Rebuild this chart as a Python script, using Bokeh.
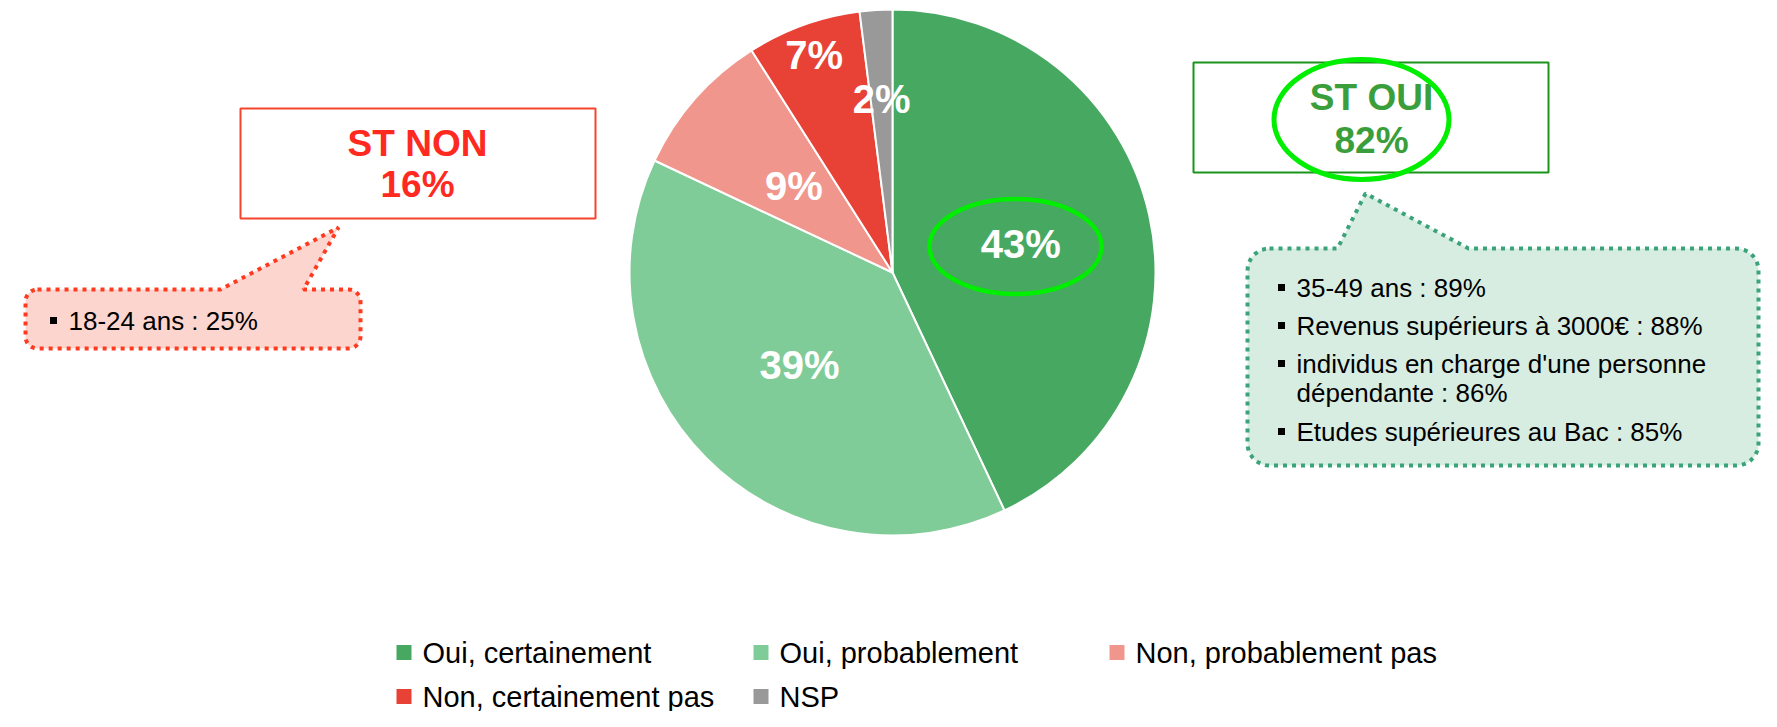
import numpy as np
from bokeh.plotting import figure
from bokeh.models import Range1d
from bokeh.embed import file_html
from bokeh.resources import INLINE
from bokeh.core.properties import value

# ---------------- data ----------------
categories = ["Oui, certainement", "Oui, probablement", "Non, probablement pas",
              "Non, certainement pas", "NSP"]
values = [43, 39, 9, 7, 2]
slice_colors = ["#47A862", "#80CC98", "#F1968D", "#E84135", "#999999"]

st_oui_label = "ST OUI"
st_oui_value = 82
st_non_label = "ST NON"
st_non_value = 16

oui_details = ["35-49 ans : 89%", "Revenus supérieurs à 3000€ : 88%",
               "individus en charge d'une personne", "dépendante : 86%",
               "Etudes supérieures au Bac : 85%"]
oui_bullets = [True, True, True, False, True]
non_details = ["18-24 ans : 25%"]

# ---------------- figure ----------------
W, H = 1761, 711
p = figure(width=W, height=H, x_range=Range1d(0, W), y_range=Range1d(-H, 0),
           output_backend="svg", toolbar_location=None, min_border=0,
           x_axis_location=None, y_axis_location=None)
p.xgrid.visible = False
p.ygrid.visible = False
p.outline_line_color = None
p.background_fill_color = "white"
p.border_fill_color = "white"

FONT = value("Liberation Sans")

# ---------------- pie ----------------
CX, CY, R = 892, 272, 263
fr = np.array(values, dtype=float) / sum(values)
cum = np.concatenate([[0.0], np.cumsum(fr)])
start = np.pi / 2 - 2 * np.pi * cum[:-1]
end = np.pi / 2 - 2 * np.pi * cum[1:]
p.wedge(x=CX, y=-CY, radius=R, start_angle=list(start), end_angle=list(end),
        direction="clock", fill_color=slice_colors, line_color="white", line_width=2)

label_frac = [0.5, 0.5, 0.5, 0.88, 0.66]
mid = (start + end) / 2
lx = [CX + f * R * np.cos(m) for f, m in zip(label_frac, mid)]
ly = [-CY + f * R * np.sin(m) for f, m in zip(label_frac, mid)]
p.text(x=lx, y=ly, text=[f"{v}%" for v in values], text_font=FONT,
       text_font_style="bold", text_font_size="40px", text_color="white",
       text_align="center", text_baseline="middle")

p.ellipse(x=1015, y=-246, width=172, height=95, fill_color=None,
          line_color="#00EE00", line_width=4.5)


# ---------------- callouts ----------------
def callout(left, top, right, bottom, r, b1, tip, b2):
    pts = [(left + r, top), (b1, top), tip, (b2, top), (right - r, top)]

    def arc(cx, cy, a0, a1):
        t = np.linspace(np.radians(a0), np.radians(a1), 10)
        return [(cx + r * np.cos(a), cy + r * np.sin(a)) for a in t]

    pts += arc(right - r, top + r, -90, 0)
    pts += arc(right - r, bottom - r, 0, 90)
    pts += arc(left + r, bottom - r, 90, 180)
    pts += arc(left + r, top + r, 180, 270)
    xs = [q[0] for q in pts]
    ys = [-q[1] for q in pts]
    return xs, ys


# red callout
xs, ys = callout(25, 289, 360, 348, 12, 220, (338, 227), 303)
p.patch(xs, ys, fill_color="#FDD5CF", line_color="#FF3A1F", line_width=4,
        line_dash="4 5")
# green callout
xs, ys = callout(1247, 248, 1758, 465, 22, 1337, (1365, 193), 1468)
p.patch(xs, ys, fill_color="#D8EDE2", line_color="#3BA37A", line_width=4,
        line_dash="4 5")

# ---------------- ST boxes ----------------
p.quad(left=240, right=595, top=-108, bottom=-218, fill_color="white",
       line_color="#F5442C", line_width=2)
p.text(x=[417, 417], y=[-143, -184], text=[st_non_label, f"{st_non_value}%"],
       text_font=FONT, text_font_style="bold", text_font_size="37px",
       text_color="#FF2A1F", text_align="center", text_baseline="middle")

p.quad(left=1193, right=1548, top=-62, bottom=-172, fill_color="white",
       line_color="#1A941A", line_width=2)
p.text(x=[1371, 1371], y=[-97, -140], text=[st_oui_label, f"{st_oui_value}%"],
       text_font=FONT, text_font_style="bold", text_font_size="37px",
       text_color="#3A9E3A", text_align="center", text_baseline="middle")
p.ellipse(x=1361, y=-119, width=175, height=120, fill_color=None,
          line_color="#00EE00", line_width=5)

# ---------------- callout texts ----------------
p.text(x=[68], y=[-320], text=non_details, text_font=FONT, text_font_size="26px",
       text_color="black", text_align="left", text_baseline="middle")
p.scatter(x=[53], y=[-320], marker="square", size=7, fill_color="black", line_color=None)

oui_y = [287, 325, 363, 392, 431]
p.text(x=[1296] * len(oui_details), y=[-v for v in oui_y], text=oui_details,
       text_font=FONT, text_font_size="26px", text_color="black",
       text_align="left", text_baseline="middle")
by = [-v for v, b in zip(oui_y, oui_bullets) if b]
p.scatter(x=[1281] * len(by), y=by, marker="square", size=7, fill_color="black",
          line_color=None)

# ---------------- legend ----------------
col_x = [396, 753, 1109]
row_y = [652, 696]
for i, (cat, col) in enumerate(zip(categories, slice_colors)):
    x0 = col_x[i % 3]
    y0 = row_y[i // 3]
    p.rect(x=x0 + 7.5, y=-y0, width=15, height=15, fill_color=col, line_color=None)
    p.text(x=[x0 + 26], y=[-y0], text=[cat], text_font=FONT, text_font_size="29px",
           text_color="black", text_align="left", text_baseline="middle")

open("out.html", "w").write(file_html(p, INLINE))
